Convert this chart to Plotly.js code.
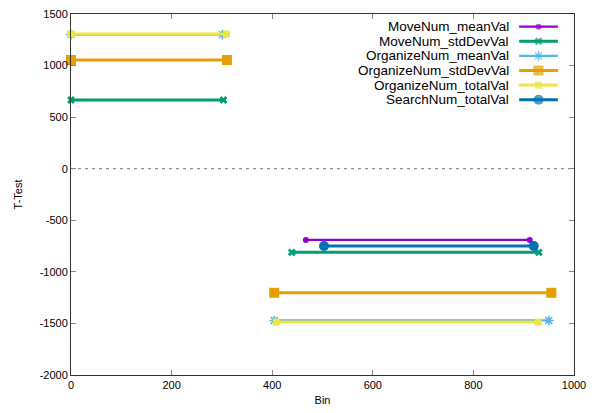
<!DOCTYPE html>
<html>
<head>
<meta charset="utf-8">
<script src="https://cdn.plot.ly/plotly-3.0.1.min.js"></script>
<style>html,body{margin:0;padding:0;background:#fff;}#chart{width:595px;height:413px;}</style>
</head>
<body>
<div id="chart"></div>
<script>
// ---- data ----
const seriesNames = ["MoveNum_meanVal","MoveNum_stdDevVal","OrganizeNum_meanVal","OrganizeNum_stdDevVal","OrganizeNum_totalVal","SearchNum_totalVal"];
const moveMeanX = [467, 912];
const moveMeanY = [-690, -690];
const moveStdX = [0, 303, null, 439, 930];
const moveStdY = [666, 666, null, -811, -811];
const orgMeanX = [0, 301, null, 404, 950];
const orgMeanY = [1300, 1300, null, -1471, -1471];
const orgStdX = [0, 310, null, 404, 955];
const orgStdY = [1054, 1054, null, -1203, -1203];
const orgTotalX = [0, 309, null, 408, 929];
const orgTotalY = [1306, 1306, null, -1487, -1487];
const searchTotalX = [503, 920];
const searchTotalY = [-750, -750];
const xTicks = [0, 200, 400, 600, 800, 1000];
const yTicks = [-2000, -1500, -1000, -500, 0, 500, 1000, 1500];

// ---- styles ----
const styles = [
  {color:"#9400d3", width:2.2, symbol:"circle", size:6, lw:0},
  {color:"#009e73", width:3, symbol:"x", size:7, lw:0},
  {color:"#56b4e9", width:2.2, symbol:"asterisk-open", size:8, lw:1.6},
  {color:"#e69f00", width:3, symbol:"square", size:10, lw:0},
  {color:"#f0e442", width:3, symbol:"square", size:7, lw:0},
  {color:"#0072b2", width:3, symbol:"circle", size:10, lw:0}
];
const xs = [moveMeanX, moveStdX, orgMeanX, orgStdX, orgTotalX, searchTotalX];
const ys = [moveMeanY, moveStdY, orgMeanY, orgStdY, orgTotalY, searchTotalY];

const traces = [];
for (let i = 0; i < seriesNames.length; i++) {
  const s = styles[i];
  traces.push({
    type: "scatter", mode: "lines+markers", name: seriesNames[i],
    x: xs[i], y: ys[i], connectgaps: false, cliponaxis: false,
    line: {color: s.color, width: s.width},
    marker: {color: s.color, symbol: s.symbol, size: s.size, line: {color: s.color, width: s.lw}},
    showlegend: false, hoverinfo: "skip"
  });
}

// ---- custom gnuplot-style legend (text left of sample) ----
const legTextX = 0.873, legLine0 = 0.891, legLine1 = 0.968, legTop = 0.965, legStep = 0.0405;
const annotations = [];
for (let i = 0; i < seriesNames.length; i++) {
  const s = styles[i];
  const yy = legTop - i * legStep;
  annotations.push({xref:"paper", yref:"paper", x: legTextX, y: yy, xanchor:"right", yanchor:"middle",
    text: seriesNames[i], showarrow:false, borderpad:0,
    font:{family:"Liberation Sans, Arial, sans-serif", size:13.5, color:"#000"}});
  traces.push({
    type:"scatter", mode:"lines+markers", xaxis:"x2", yaxis:"y2",
    x:[legLine0, (legLine0+legLine1)/2, legLine1], y:[yy, yy, yy],
    line:{color:s.color, width:s.width},
    marker:{color:s.color, symbol:s.symbol, size:[0, s.size, 0], line:{color:s.color, width:s.lw}},
    showlegend:false, hoverinfo:"skip", cliponaxis:false
  });
}

const axisFont = {family:"Liberation Sans, Arial, sans-serif", size:11, color:"#000"};
const layout = {
  width: 595, height: 413,
  margin: {l:71, r:21, t:14, b:38, pad:0},
  paper_bgcolor:"#fff", plot_bgcolor:"#fff",
  showlegend:false,
  font: axisFont,
  xaxis: {
    range:[0, 1000], tickvals: xTicks, ticktext: xTicks.map(String),
    showgrid:false, zeroline:false, showline:true, linecolor:"#333", linewidth:1,
    mirror:"ticks", ticks:"inside", ticklen:5, tickcolor:"#888", tickwidth:1,
    tickfont: axisFont, title:{text:"Bin", font:axisFont, standoff:6}
  },
  yaxis: {
    range:[-2000, 1500], tickvals: yTicks, ticktext: yTicks.map(String),
    showgrid:false, zeroline:false, showline:true, linecolor:"#333", linewidth:1,
    mirror:"ticks", ticks:"inside", ticklen:5, tickcolor:"#888", tickwidth:1,
    tickfont: axisFont, title:{text:"T-Test", font:axisFont, standoff:14}
  },
  xaxis2: {range:[0,1], overlaying:"x", visible:false, fixedrange:true},
  yaxis2: {range:[0,1], overlaying:"y", visible:false, fixedrange:true},
  shapes: [{type:"line", xref:"paper", yref:"y", x0:0, x1:1, y0:0, y1:0,
            line:{color:"#777", width:1, dash:"3px,4px"}, layer:"below"}],
  annotations: annotations
};

Plotly.newPlot("chart", traces, layout, {staticPlot:true, displayModeBar:false});
</script>
</body>
</html>
